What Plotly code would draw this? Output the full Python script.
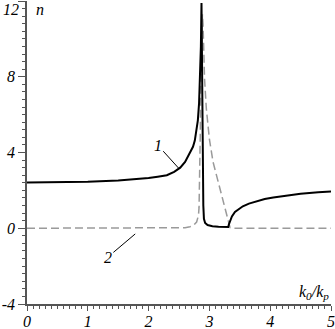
import plotly.graph_objects as go

# Curve 1 (solid): n vs k0/kp
k1 = [0, 0.5, 1.0, 1.5, 1.8, 2.0, 2.15, 2.3, 2.42, 2.52, 2.6, 2.68, 2.73, 2.76, 2.79,
      2.81, 2.83, 2.85, 2.86, 2.87, 2.88, 2.89, 2.90, 2.91, 2.93, 2.97, 3.05, 3.15,
      3.25, 3.31, 3.32, 3.34, 3.37, 3.42, 3.48, 3.55, 3.65, 3.78, 3.91, 4.05, 4.24,
      4.5, 4.79, 5.0]
n1 = [2.42, 2.43, 2.46, 2.52, 2.58, 2.65, 2.72, 2.8, 2.98, 3.2, 3.5, 3.95, 4.3, 4.63, 5.2,
      5.7, 6.6, 8.2, 9.6, 11.9, 6.5, 2.7, 1.2, 0.5, 0.28, 0.17, 0.11, 0.08,
      0.06, 0.07, 0.2, 0.42, 0.62, 0.86, 1.02, 1.16, 1.3, 1.44, 1.54, 1.62, 1.72,
      1.82, 1.9, 1.94]

# Curve 2 (dashed): absorption-like curve
k2 = [0, 2.3, 2.5, 2.6, 2.68, 2.74, 2.79, 2.82, 2.83, 2.84, 2.85, 2.86, 2.875, 2.885,
      2.895, 2.905, 2.92, 2.95, 3.0, 3.06, 3.13, 3.2, 3.27, 3.32, 3.34, 3.4, 5.0]
n2 = [0, 0, 0.01, 0.03, 0.08, 0.16, 0.33, 0.68, 1.1, 2.5, 5.0, 8.0, 10.5, 11.3,
      10.8, 9.3, 7.9, 6.3, 4.7, 3.5, 2.6, 1.7, 0.9, 0.2, 0.03, 0, 0]

y_ticks = [-4, 0, 4, 8, 12]
y_ticktext = ["-4", "0", "4", "8", ""]
x_ticks = [0, 1, 2, 3, 4, 5]

FONT = dict(family="Liberation Serif", size=16, color="black", style="italic")
AX = "#555555"

fig = go.Figure()
fig.add_trace(go.Scatter(x=k2, y=n2, mode="lines",
                         line=dict(color="#9a9a9a", width=1.5, dash="8px,4px")))
fig.add_trace(go.Scatter(x=k1, y=n1, mode="lines",
                         line=dict(color="black", width=2)))

fig.update_layout(
    width=335, height=329,
    margin=dict(l=27, r=4, t=1, b=25, autoexpand=False),
    paper_bgcolor="white", plot_bgcolor="white",
    showlegend=False,
    font=FONT,
)
fig.update_xaxes(range=[0, 5], tickvals=x_ticks, showgrid=False, zeroline=False,
                 automargin=False,
                 showline=True, linecolor=AX, linewidth=1.5,
                 ticks="outside", ticklen=5, tickcolor=AX, tickwidth=1.2,
                 tickfont=FONT, ticklabelstandoff=-3,
                 minor=dict(dtick=0.1, tick0=0, ticks="outside", ticklen=3,
                            tickcolor=AX, tickwidth=1))
fig.update_yaxes(range=[-4, 12], tickvals=y_ticks, ticktext=y_ticktext,
                 showgrid=False, zeroline=False,
                 automargin=False,
                 showline=True, linecolor=AX, linewidth=1.5,
                 ticks="outside", ticklen=7, tickcolor=AX, tickwidth=1.2,
                 tickfont=FONT,
                 minor=dict(dtick=0.4, tick0=0, ticks="outside", ticklen=3,
                            tickcolor=AX, tickwidth=1))

# "12" tick label placed inside the figure
fig.add_annotation(x=0, y=12, xref="x", yref="y", text="12", showarrow=False,
                   xanchor="right", xshift=-6, yshift=-8, font=FONT)
# axis titles
fig.add_annotation(x=0.21, y=12, xref="x", yref="y", text="n", showarrow=False,
                   yanchor="top", yshift=2, font=FONT)
fig.add_annotation(x=5, y=-3.37, xref="x", yref="y",
                   text="k<sub>0</sub>/k<sub>p</sub>", showarrow=False,
                   xanchor="right", font=FONT)
# curve labels with leader lines
fig.add_annotation(x=2.50, y=3.15, ax=2.15, ay=4.39, xref="x", yref="y",
                   axref="x", ayref="y", text="1", showarrow=True,
                   arrowhead=0, arrowwidth=1, arrowcolor="black", font=FONT)
fig.add_annotation(x=1.78, y=-0.3, ax=1.33, ay=-1.52, xref="x", yref="y",
                   axref="x", ayref="y", text="2", showarrow=True,
                   arrowhead=0, arrowwidth=1, arrowcolor="black", font=FONT)

fig.write_html("out.html", config={"displayModeBar": False},
               post_script="document.body.style.margin='0';document.body.style.padding='0';document.body.style.overflow='hidden';")
